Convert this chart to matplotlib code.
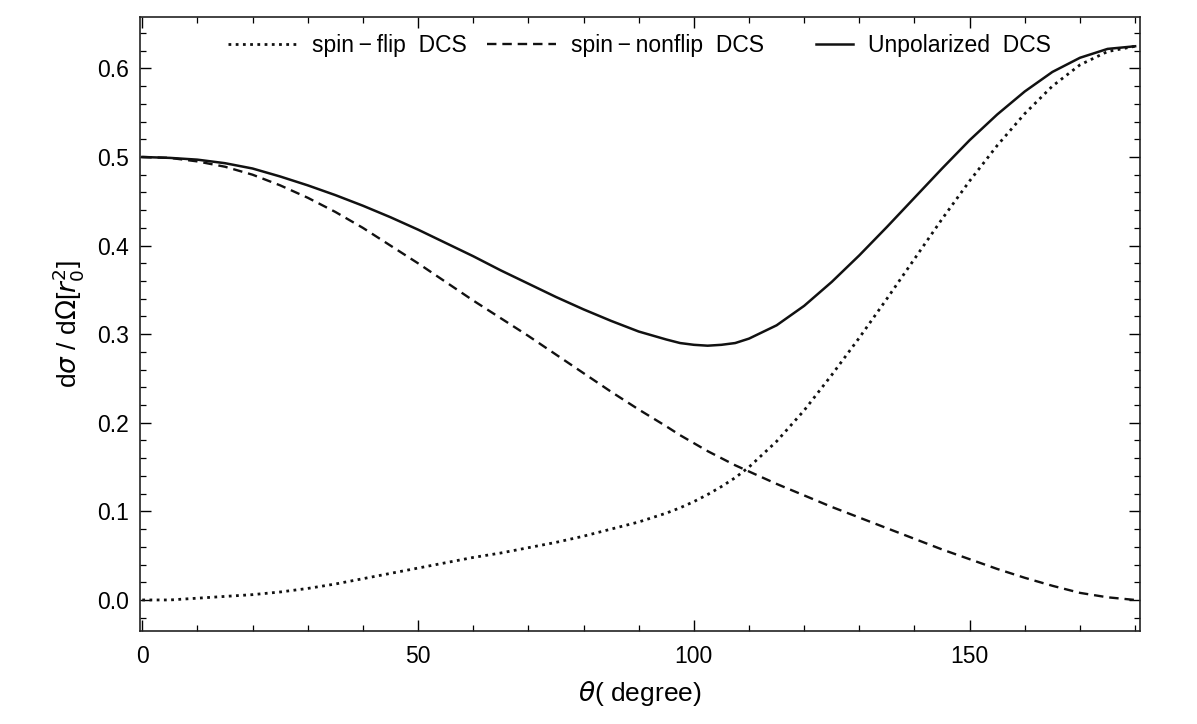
import matplotlib
matplotlib.use("Agg")
import matplotlib.pyplot as plt
from matplotlib.legend_handler import HandlerLine2D
from matplotlib.ticker import MultipleLocator

plt.rcParams["font.family"] = ["Liberation Sans", "DejaVu Sans"]
plt.rcParams["mathtext.fontset"] = "dejavusans"

# ---- values (theta in degrees, DCS in r0^2) ---------------------------------
THETA = [0, 5, 10, 15, 20, 25, 30, 35, 40, 45, 50, 55, 60, 65, 70, 75, 80, 85,
         90, 95, 97.5, 100, 102.5, 105, 107.5, 110, 115, 120, 125, 130, 135,
         140, 145, 150, 155, 160, 165, 170, 175, 180]

SPIN_FLIP = [0.000, 0.000, 0.002, 0.004, 0.006, 0.009, 0.013, 0.018, 0.024,
             0.030, 0.036, 0.042, 0.048, 0.053, 0.059, 0.065, 0.072, 0.080,
             0.088, 0.098, 0.104, 0.111, 0.119, 0.128, 0.138, 0.150, 0.179,
             0.214, 0.254, 0.296, 0.340, 0.385, 0.430, 0.473, 0.513, 0.549,
             0.580, 0.604, 0.619, 0.625]

SPIN_NONFLIP = [0.500, 0.499, 0.495, 0.489, 0.480, 0.468, 0.454, 0.438, 0.420,
                0.400, 0.380, 0.359, 0.338, 0.318, 0.298, 0.277, 0.256, 0.235,
                0.215, 0.196, 0.186, 0.177, 0.168, 0.160, 0.152, 0.145, 0.131,
                0.118, 0.105, 0.093, 0.081, 0.069, 0.057, 0.046, 0.035, 0.025,
                0.016, 0.008, 0.003, 0.000]

UNPOLARIZED = [0.500, 0.499, 0.497, 0.493, 0.487, 0.478, 0.468, 0.457, 0.445,
               0.432, 0.418, 0.403, 0.388, 0.372, 0.357, 0.342, 0.328, 0.315,
               0.303, 0.294, 0.290, 0.288, 0.287, 0.288, 0.290, 0.295, 0.310,
               0.332, 0.359, 0.389, 0.421, 0.454, 0.487, 0.519, 0.548, 0.574,
               0.596, 0.612, 0.622, 0.625]

LABELS = ["spin\u2009\u2212\u2009flip  DCS", "spin\u2009\u2212\u2009nonflip  DCS",
          "Unpolarized  DCS"]
# -----------------------------------------------------------------------------

LINE = "#111111"


class ShortLine(HandlerLine2D):
    """Legend line drawn shorter than the slot, pushed against the label."""

    def __init__(self, frac, **kw):
        super().__init__(**kw)
        self.frac = frac

    def create_artists(self, legend, orig_handle, xdescent, ydescent, width,
                       height, fontsize, trans):
        short = width * self.frac
        return super().create_artists(legend, orig_handle,
                                      xdescent - (width - short), ydescent,
                                      short, height, fontsize, trans)


fig = plt.figure(figsize=(11.97, 7.24), dpi=100)
ax = fig.add_axes([0.117, 0.1285, 0.835, 0.848])

l1, = ax.plot(THETA, SPIN_FLIP, color=LINE, lw=2.0, linestyle=(0, (1, 1.6)), label=LABELS[0])
l2, = ax.plot(THETA, SPIN_NONFLIP, color=LINE, lw=1.7, linestyle=(0, (4, 2.5)), label=LABELS[1])
l3, = ax.plot(THETA, UNPOLARIZED, color=LINE, lw=1.8, label=LABELS[2])

ax.set_xlim(-0.4, 180.8)
ax.set_ylim(-0.035, 0.658)

ax.xaxis.set_major_locator(MultipleLocator(50))
ax.xaxis.set_minor_locator(MultipleLocator(10))
ax.yaxis.set_major_locator(MultipleLocator(0.1))
ax.yaxis.set_minor_locator(MultipleLocator(0.02))
ax.yaxis.set_major_formatter(plt.FuncFormatter(lambda v, p: f"{v:.1f}"))

ax.tick_params(which="both", direction="in", top=True, right=True,
               labelsize=16.5, colors="#000000")
ax.tick_params(axis="x", pad=10)
ax.tick_params(axis="y", pad=8)
ax.tick_params(which="major", length=8, width=1.0)
ax.tick_params(which="minor", length=4, width=0.9)
for s in ax.spines.values():
    s.set_linewidth(1.2)
    s.set_color("#222222")

ax.set_xlabel(r"$\theta$( degree)", fontsize=19, labelpad=8)
ax.set_ylabel(r"d$\sigma$ / d$\Omega$[$r_0^2$]", fontsize=19, labelpad=8)

ax.legend(loc="upper center", bbox_to_anchor=(0.5, 1.0), ncol=3,
          frameon=False, fontsize=16.5, handlelength=3.0, columnspacing=0.9,
          handletextpad=0.65, borderaxespad=0.35,
          handler_map={l3: ShortLine(0.55)})

fig.savefig("out.png", dpi=100)
